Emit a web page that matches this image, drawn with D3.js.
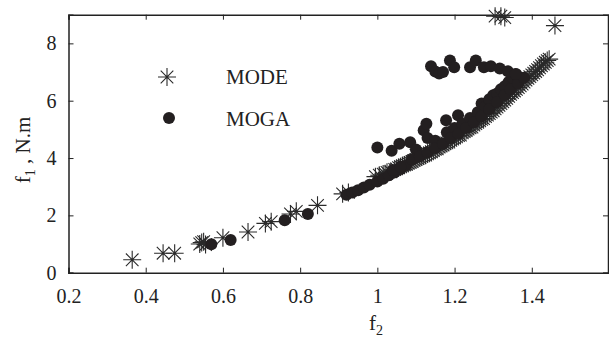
<!DOCTYPE html>
<html>
<head>
<meta charset="utf-8">
<script src="https://cdn.jsdelivr.net/npm/d3@7"></script>
<style>
body { margin: 0; background: #fff; }
text { font-family: "Liberation Serif", "Times New Roman", serif; fill: #222; }
</style>
</head>
<body>
<script>
// MODE pareto front (f2, f1)
var modeF2 = [0.365, 0.445, 0.475, 0.54, 0.545, 0.55, 0.555, 0.60, 0.665, 0.71, 0.725, 0.775, 0.79, 0.845, 0.91, 0.925, 0.995,
	1.02, 1.035, 1.05, 1.06, 1.075, 1.09, 1.10, 1.11, 1.125, 1.13, 1.14, 1.155, 1.16, 1.17, 1.185, 1.19, 1.20, 1.215, 1.22, 1.23,
	1.245, 1.25, 1.26, 1.275, 1.28, 1.29, 1.30, 1.31, 1.32, 1.33, 1.34, 1.35, 1.36, 1.37, 1.38, 1.39, 1.40, 1.41, 1.42, 1.43, 1.44,
	1.005, 1.015, 1.025, 1.045, 1.055, 1.065, 1.07, 1.08, 1.085, 1.095, 1.105, 1.115, 1.12, 1.135, 1.145, 1.15, 1.165, 1.175,
	1.18, 1.195, 1.205, 1.21, 1.225, 1.235, 1.24, 1.255, 1.265, 1.27, 1.285, 1.295, 1.305, 1.315, 1.325, 1.335, 1.345, 1.355,
	1.365, 1.375, 1.385, 1.395, 1.405, 1.415, 1.425, 1.435, 1.445, 1.10, 1.20, 1.30, 1.35,
	1.305, 1.32, 1.33, 1.46];
var modeF1 = [0.45, 0.68, 0.68, 1.0, 1.05, 1.08, 0.98, 1.22, 1.42, 1.72, 1.78, 2.05, 2.14, 2.35, 2.75, 2.80, 3.35,
	3.45, 3.52, 3.62, 3.70, 3.78, 3.88, 3.95, 4.02, 4.10, 4.15, 4.22, 4.32, 4.38, 4.45, 4.56, 4.62, 4.70, 4.80, 4.88, 4.96,
	5.08, 5.15, 5.25, 5.38, 5.45, 5.55, 5.65, 5.78, 5.90, 6.02, 6.15, 6.28, 6.40, 6.52, 6.65, 6.78, 6.90, 7.02, 7.15, 7.28, 7.40,
	3.40, 3.44, 3.50, 3.60, 3.66, 3.73, 3.76, 3.82, 3.85, 3.92, 3.98, 4.05, 4.08, 4.18, 4.26, 4.30, 4.42, 4.50,
	4.53, 4.66, 4.74, 4.78, 4.92, 5.01, 5.05, 5.20, 5.30, 5.35, 5.50, 5.60, 5.72, 5.84, 5.96, 6.08, 6.22, 6.34,
	6.46, 6.58, 6.72, 6.84, 6.96, 7.08, 7.22, 7.34, 7.45, 4.10, 4.90, 5.85, 6.45,
	8.95, 8.95, 8.90, 8.62];

// MOGA solutions (f2, f1)
var mogaF2 = [0.57, 0.62, 0.76, 0.82, 0.92, 0.935, 0.95, 0.965, 0.98, 1.0, 1.015, 1.03, 1.045, 1.06, 1.075,
	1.0, 1.037, 1.057, 1.085, 1.10, 1.12, 1.127, 1.13, 1.15, 1.178, 1.18, 1.20, 1.209, 1.22, 1.24, 1.26, 1.27, 1.28,
	1.29, 1.30, 1.31, 1.32, 1.33, 1.34, 1.35, 1.36,
	1.04, 1.06, 1.09, 1.11, 1.13, 1.15, 1.17, 1.19, 1.21, 1.23, 1.25, 1.27, 1.29, 1.31, 1.33, 1.345, 1.365, 1.38,
	1.139, 1.150, 1.160, 1.170, 1.188, 1.199, 1.240, 1.255, 1.276, 1.294, 1.317, 1.338, 1.358];
var mogaF1 = [0.99, 1.14, 1.83, 2.05, 2.72, 2.80, 2.88, 2.97, 3.07, 3.18, 3.28, 3.40, 3.50, 3.62, 3.75,
	4.37, 4.25, 4.50, 4.55, 4.30, 4.97, 5.20, 4.70, 4.60, 5.32, 4.90, 5.05, 5.49, 5.20, 5.40, 5.60, 5.90, 5.80,
	6.05, 6.19, 6.25, 6.40, 6.50, 6.65, 6.80, 6.92,
	3.58, 3.70, 3.95, 4.05, 4.20, 4.35, 4.50, 4.70, 4.85, 5.05, 5.25, 5.45, 5.70, 5.95, 6.20, 6.40, 6.60, 6.80,
	7.20, 7.02, 6.95, 7.00, 7.40, 7.17, 7.17, 7.40, 7.17, 7.20, 7.12, 7.03, 6.93];

var xTicks = [0.2, 0.4, 0.6, 0.8, 1, 1.2, 1.4];
var yTicks = [0, 2, 4, 6, 8];

var W = 609, H = 338;
var svg = d3.select("body").append("svg").attr("width", W).attr("height", H);

var x = d3.scaleLinear().domain([0.2, 1.6]).range([68.5, 609]);
var y = d3.scaleLinear().domain([0, 9]).range([272.7, 14.7]);

//axes, ticks inside
var gx = svg.append("g").attr("transform", "translate(0," + y(0) + ")")
	.call(d3.axisBottom(x).tickValues(xTicks).tickSize(-5).tickPadding(12).tickFormat(d3.format("")));
var gy = svg.append("g").attr("transform", "translate(" + x(0.2) + ",0)")
	.call(d3.axisLeft(y).tickValues(yTicks).tickSize(-5).tickPadding(12));
svg.append("g").attr("transform", "translate(0," + y(9) + ")")
	.call(d3.axisTop(x).tickValues(xTicks).tickSize(-5).tickFormat(""));
svg.append("g").attr("transform", "translate(" + (x(1.6) - 1) + ",0)")
	.call(d3.axisRight(y).tickValues(yTicks).tickSize(-5).tickFormat(""));

svg.selectAll(".domain").attr("stroke", "#222").attr("stroke-width", 1.5);
svg.selectAll(".tick line").attr("stroke", "#222").attr("stroke-width", 1);
svg.selectAll(".tick text").style("font-family", "Liberation Serif").style("font-size", "20px").attr("fill", "#222");
gx.selectAll(".tick text").attr("dy", "0.9em");

function star(g, cx, cy) {
	var a = 9, b = 6.3;
	var p = "M" + (cx - a) + "," + cy + "H" + (cx + a) +
		"M" + cx + "," + (cy - a) + "V" + (cy + a) +
		"M" + (cx - b) + "," + (cy - b) + "L" + (cx + b) + "," + (cy + b) +
		"M" + (cx - b) + "," + (cy + b) + "L" + (cx + b) + "," + (cy - b);
	g.append("path").attr("d", p).attr("stroke", "#2a2a2a").attr("stroke-width", 1.1).attr("fill", "none");
}

var marks = svg.append("g");
modeF2.forEach(function(d, i) {
	star(marks, x(d), y(modeF1[i]));
});
marks.selectAll("circle")
	.data(mogaF2)
	.enter()
	.append("circle")
	.attr("cx", function(d) { return x(d); })
	.attr("cy", function(d, i) { return y(mogaF1[i]); })
	.attr("r", 6)
	.attr("fill", "#231f20");

// legend
star(svg, 167, 77);
svg.append("text").attr("x", 226).attr("y", 84).style("font-size", "21px").text("MODE");
svg.append("circle").attr("cx", 169).attr("cy", 118).attr("r", 6).attr("fill", "#231f20");
svg.append("text").attr("x", 226).attr("y", 126).style("font-size", "21px").text("MOGA");

// axis labels
var xl = svg.append("text").attr("x", 376).attr("y", 330).attr("text-anchor", "middle").style("font-size", "21px");
xl.append("tspan").text("f");
xl.append("tspan").attr("dy", 5).style("font-size", "14px").text("2");

var yl = svg.append("text").attr("transform", "translate(30,150) rotate(-90)").attr("text-anchor", "middle").style("font-size", "21px");
yl.append("tspan").text("f");
yl.append("tspan").attr("dy", 5).style("font-size", "14px").text("1");
yl.append("tspan").attr("dy", -5).text(" , N.m");
</script>
</body>
</html>
